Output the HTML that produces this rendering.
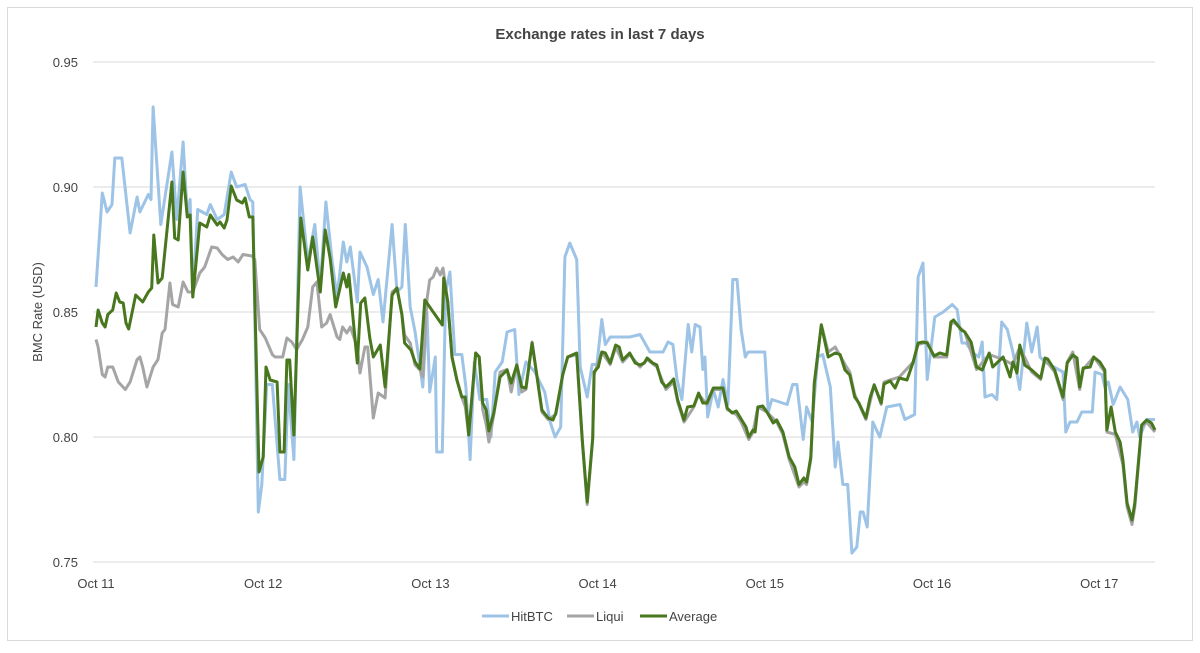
<!DOCTYPE html>
<html><head><meta charset="utf-8"><style>
html,body{margin:0;padding:0;background:#fff;}
svg{display:block;font-family:"Liberation Sans",sans-serif;}
</style></head><body>
<svg id="chart" width="1200" height="653" viewBox="0 0 1200 653" xmlns="http://www.w3.org/2000/svg">
<rect x="7.5" y="7.5" width="1185" height="633" fill="#fff" stroke="#d9d9d9" stroke-width="1"/>
<text x="600" y="39" text-anchor="middle" font-size="15" font-weight="bold" fill="#444">Exchange rates in last 7 days</text>
<text transform="translate(42,312) rotate(-90)" text-anchor="middle" font-size="13" fill="#444">BMC Rate (USD)</text>
<g id="grid"></g>
<g id="yticks"></g>
<g id="xticks"></g>
<g id="series"></g>
<g font-size="13" fill="#444">
 <g><line x1="482" y1="616" x2="509" y2="616" stroke="#9dc3e6" stroke-width="3"/><text x="511" y="621">HitBTC</text></g>
 <g><line x1="567" y1="616" x2="594" y2="616" stroke="#a5a5a5" stroke-width="3"/><text x="596" y="621">Liqui</text></g>
 <g><line x1="640" y1="616" x2="667" y2="616" stroke="#48771e" stroke-width="3"/><text x="669" y="621">Average</text></g>
</g>
</svg>
<script>
const yTicks = [0.95, 0.90, 0.85, 0.80, 0.75];
const yTickLabels = ["0.95", "0.90", "0.85", "0.80", "0.75"];
const xTickLabels = ["Oct 11", "Oct 12", "Oct 13", "Oct 14", "Oct 15", "Oct 16", "Oct 17"];
const xTickHours = [0, 24, 48, 72, 96, 120, 144];

const hitHours = [0,0.9,1.6,2.3,2.7,3.7,4.9,5.9,6.3,7.5,7.9,8.2,9.3,10.9,11.6,12.5,13.1,13.5,13.9,14.6,15.9,16.4,17.4,18.4,19.4,20.2,21.4,22.1,22.5,23.3,23.8,24.5,25.3,26.4,27.1,27.6,28.4,29.3,30.4,31.4,32.2,33.0,33.9,34.6,35.5,36.0,36.5,37.5,37.9,38.9,39.8,40.5,41.2,42.5,43.2,43.9,44.4,45.1,45.8,46.9,47.5,47.9,48.7,48.9,49.7,50.2,50.8,51.5,52.5,53.1,53.7,54.3,55.1,56.1,56.7,57.3,58.3,59.0,60.1,60.7,61.7,63.0,64.4,65.2,65.9,66.7,67.3,68.0,69.0,69.5,70.5,71.2,71.9,72.6,73.1,73.8,76.6,78.1,79.5,81.4,82.1,82.8,83.4,84.1,85.0,85.5,86.0,86.7,87.1,87.4,87.8,88.6,89.3,90.0,90.7,91.4,92.0,92.6,93.2,93.6,96.0,96.5,97.0,99.2,100.0,100.6,101.5,102.0,102.8,103.6,104.3,105.4,106.1,106.5,107.2,107.9,108.5,109.2,109.7,110.1,110.7,111.5,112.5,113.5,115.4,116.1,117.5,118.0,118.7,119.3,120.4,121.6,122.9,123.6,124.3,124.9,125.7,126.7,127.2,127.6,128.6,129.3,130.0,130.8,131.6,132.6,133.6,134.3,135.1,135.5,136.2,138.8,139.2,139.8,140.8,141.5,143.0,143.4,144.4,144.8,145.3,146.0,147.0,148.1,148.8,149.4,149.8,150.8,152.0];
const hitValues = [0.860,0.8976,0.890,0.893,0.9116,0.9116,0.8816,0.896,0.890,0.897,0.895,0.932,0.885,0.914,0.887,0.918,0.889,0.895,0.856,0.891,0.889,0.893,0.887,0.889,0.906,0.900,0.901,0.895,0.894,0.770,0.781,0.821,0.821,0.783,0.783,0.821,0.791,0.900,0.870,0.885,0.860,0.894,0.870,0.856,0.878,0.870,0.876,0.854,0.874,0.868,0.857,0.863,0.846,0.885,0.858,0.860,0.885,0.852,0.842,0.820,0.850,0.818,0.832,0.794,0.794,0.858,0.866,0.833,0.833,0.820,0.791,0.830,0.815,0.815,0.800,0.826,0.830,0.842,0.843,0.817,0.830,0.826,0.818,0.806,0.800,0.804,0.872,0.8776,0.871,0.828,0.816,0.829,0.829,0.847,0.837,0.840,0.840,0.841,0.834,0.834,0.838,0.837,0.823,0.815,0.845,0.834,0.845,0.844,0.827,0.832,0.808,0.819,0.812,0.823,0.813,0.863,0.863,0.843,0.832,0.834,0.834,0.810,0.815,0.813,0.821,0.821,0.799,0.812,0.806,0.832,0.833,0.820,0.788,0.798,0.781,0.781,0.7536,0.756,0.770,0.770,0.764,0.806,0.800,0.812,0.813,0.807,0.809,0.864,0.8696,0.823,0.848,0.850,0.853,0.851,0.8376,0.8376,0.834,0.832,0.838,0.816,0.817,0.815,0.846,0.843,0.834,0.819,0.8456,0.834,0.844,0.832,0.830,0.826,0.802,0.806,0.806,0.810,0.810,0.826,0.825,0.820,0.822,0.813,0.820,0.815,0.802,0.806,0.800,0.807,0.807];

const liquiHours = [0,0.3,0.9,1.3,1.7,2.4,3.2,4.2,4.9,5.9,6.3,6.7,7.3,8.2,8.9,9.5,9.9,10.6,11.0,11.8,12.5,13.2,13.9,14.9,15.6,16.6,17.4,18.1,18.9,19.7,20.4,21.1,22.4,22.8,23.5,24.3,25.3,25.7,26.1,26.8,27.4,28.1,28.8,29.6,30.4,31.1,31.7,32.4,33.1,33.6,34.6,35.0,35.4,36.0,36.5,37.5,37.9,38.6,39.0,39.8,40.5,41.5,42.5,43.2,43.9,44.3,45.1,45.8,46.5,46.9,47.5,47.9,48.4,48.9,49.4,49.8,50.5,51.1,51.8,52.5,53.0,53.5,54.5,55.0,55.5,56.0,56.4,57.1,58.0,59.0,59.6,60.4,61.1,61.7,62.6,64.0,64.9,66.0,67.0,67.7,69.0,69.8,70.5,71.3,71.5,72.6,73.8,74.6,75.6,76.6,78.1,79.1,80.5,81.8,82.9,83.5,84.4,85.8,86.5,87.7,88.6,90.0,90.6,91.9,92.6,93.7,94.3,95.0,96.3,97.7,98.6,99.5,100.9,101.6,102.0,102.6,103.1,104.1,105.1,106.1,107.5,108.2,108.9,110.5,111.7,112.7,113.1,115.3,117.3,118.0,119.3,120.3,122.1,122.7,123.1,124.7,126.4,128.2,130.2,131.6,132.6,134.3,135.6,136.2,137.6,138.8,139.4,140.2,141.2,141.7,143.2,144.8,145.1,146.3,147.4,148.0,148.7,149.1,150.1,150.8,152.0];
const liquiValues = [0.839,0.836,0.825,0.824,0.828,0.828,0.822,0.819,0.822,0.831,0.832,0.828,0.820,0.828,0.831,0.8416,0.843,0.8616,0.853,0.852,0.862,0.858,0.858,0.8656,0.868,0.876,0.8756,0.873,0.871,0.872,0.870,0.873,0.8724,0.871,0.843,0.8396,0.833,0.832,0.832,0.832,0.8396,0.838,0.835,0.8388,0.844,0.860,0.862,0.844,0.8456,0.849,0.840,0.839,0.844,0.8416,0.844,0.836,0.8256,0.836,0.836,0.8076,0.8176,0.8156,0.858,0.8596,0.849,0.8408,0.8376,0.8288,0.8268,0.824,0.8548,0.8628,0.864,0.8676,0.8648,0.8676,0.854,0.832,0.8228,0.816,0.812,0.8008,0.8336,0.832,0.811,0.805,0.798,0.809,0.826,0.827,0.818,0.829,0.818,0.819,0.838,0.810,0.807,0.809,0.825,0.832,0.833,0.798,0.773,0.799,0.825,0.834,0.829,0.836,0.830,0.833,0.828,0.831,0.828,0.819,0.822,0.814,0.806,0.812,0.817,0.813,0.819,0.819,0.811,0.809,0.806,0.799,0.802,0.812,0.810,0.806,0.801,0.791,0.780,0.782,0.781,0.791,0.821,0.845,0.834,0.836,0.829,0.826,0.817,0.807,0.821,0.813,0.822,0.824,0.830,0.837,0.838,0.832,0.832,0.845,0.846,0.842,0.827,0.833,0.831,0.829,0.836,0.826,0.823,0.831,0.826,0.815,0.830,0.834,0.819,0.827,0.832,0.826,0.802,0.801,0.789,0.772,0.765,0.772,0.804,0.806,0.802];

const avgHours = [0,0.3,0.9,1.3,1.7,2.4,2.9,3.4,3.9,4.3,4.7,5.7,6.7,7.5,8.0,8.3,8.9,9.5,9.8,10.9,11.3,11.8,12.5,13.1,13.5,13.9,14.9,15.9,16.4,17.4,17.8,18.4,18.8,19.4,20.2,21.0,21.4,22.0,22.5,23.4,24.0,24.4,25.0,26.0,26.4,27.0,27.4,27.8,28.4,29.4,30.4,31.1,32.2,32.9,33.6,34.4,35.5,36.0,36.3,37.5,38.0,38.6,39.3,39.8,40.8,41.5,42.5,43.2,43.9,44.3,45.2,45.8,46.5,47.2,48.2,49.7,49.9,50.5,51.1,51.8,52.5,53.0,53.5,54.5,55.0,55.5,56.0,56.4,57.1,58.0,59.0,59.6,60.4,61.1,61.7,62.6,64.0,64.9,65.6,66.0,67.0,67.7,69.0,69.8,70.5,71.3,71.5,72.1,72.6,73.1,73.8,74.6,75.1,75.6,76.6,77.4,78.1,78.7,79.1,79.9,80.5,81.2,81.8,82.4,82.9,83.5,84.4,84.9,85.8,86.5,87.1,87.7,88.6,89.3,90.0,90.6,91.3,91.9,92.6,93.3,93.7,94.3,94.6,95.0,95.7,96.3,97.2,97.7,98.6,99.5,100.3,100.9,101.6,102.0,102.6,103.1,104.1,105.1,106.1,106.8,107.5,108.2,108.9,109.5,110.5,111.1,111.7,112.7,113.1,114.0,114.7,115.3,116.4,117.3,118.0,118.7,119.3,120.3,121.1,122.1,122.7,123.1,124.2,124.7,125.6,126.4,127.2,128.2,128.7,130.2,131.2,131.6,132.2,132.6,133.3,134.3,135.1,135.6,136.2,136.6,137.6,138.8,139.4,140.2,140.8,141.2,141.7,142.7,143.2,144.1,144.8,145.1,145.7,146.3,147.0,147.4,148.0,148.7,149.1,150.1,150.8,151.5,152.0];
const avgValues = [0.844,0.8508,0.8456,0.844,0.849,0.8508,0.8576,0.854,0.8536,0.8456,0.8432,0.8568,0.854,0.858,0.8596,0.8808,0.8616,0.8636,0.872,0.902,0.8796,0.8788,0.906,0.888,0.8888,0.856,0.8856,0.884,0.8888,0.8848,0.886,0.8836,0.8868,0.9004,0.8948,0.8936,0.8956,0.888,0.888,0.786,0.792,0.828,0.8228,0.822,0.794,0.794,0.8308,0.8308,0.8008,0.8876,0.8668,0.880,0.858,0.8828,0.8716,0.852,0.8656,0.860,0.865,0.8296,0.8536,0.8556,0.8396,0.832,0.8368,0.820,0.8568,0.8596,0.849,0.8376,0.8348,0.830,0.8272,0.8548,0.8508,0.8448,0.8636,0.854,0.832,0.8228,0.816,0.816,0.8008,0.8336,0.832,0.8136,0.8108,0.8024,0.8096,0.824,0.8268,0.8216,0.8288,0.820,0.8196,0.8376,0.8108,0.8076,0.8068,0.8096,0.825,0.832,0.8336,0.7988,0.774,0.7996,0.826,0.828,0.834,0.8336,0.8296,0.8368,0.836,0.8308,0.8336,0.8296,0.8288,0.8296,0.8316,0.8296,0.8288,0.822,0.820,0.8216,0.8232,0.8148,0.8068,0.812,0.8124,0.8176,0.8136,0.8136,0.8196,0.8196,0.8196,0.8116,0.8096,0.8104,0.8072,0.804,0.800,0.8028,0.802,0.812,0.8124,0.810,0.8056,0.8068,0.802,0.792,0.788,0.781,0.7836,0.782,0.792,0.8216,0.8448,0.832,0.8336,0.833,0.8268,0.8248,0.816,0.8136,0.8076,0.8156,0.8208,0.8136,0.8212,0.8224,0.8196,0.8236,0.8228,0.830,0.8376,0.838,0.8376,0.8324,0.8336,0.8328,0.846,0.8468,0.8428,0.842,0.838,0.828,0.8268,0.8336,0.828,0.832,0.824,0.830,0.8256,0.8368,0.8288,0.8268,0.8248,0.8236,0.8316,0.8312,0.8268,0.816,0.8296,0.8328,0.8316,0.820,0.8276,0.828,0.832,0.830,0.8268,0.8028,0.812,0.802,0.798,0.7908,0.7736,0.7668,0.7736,0.8048,0.8068,0.8056,0.8028];

const NS = "http://www.w3.org/2000/svg";
const plotLeft = 93, plotRight = 1155, x0 = 96, pxPerHour = 6.967;
const yTop = 62, yBottom = 562, yMax = 0.95, yMin = 0.75;
function xScale(h) { return x0 + h * pxPerHour; }
function yScale(v) { return yTop + (yMax - v) / (yMax - yMin) * (yBottom - yTop); }

const grid = document.getElementById('grid');
const yt = document.getElementById('yticks');
yTicks.forEach((t, i) => {
  const y = yScale(t);
  const ln = document.createElementNS(NS, 'line');
  ln.setAttribute('x1', plotLeft); ln.setAttribute('x2', plotRight);
  ln.setAttribute('y1', y); ln.setAttribute('y2', y);
  ln.setAttribute('stroke', '#d9d9d9'); ln.setAttribute('stroke-width', '1');
  
  
  grid.appendChild(ln);
  const tx = document.createElementNS(NS, 'text');
  tx.setAttribute('x', 78); tx.setAttribute('y', y + 5);
  tx.setAttribute('text-anchor', 'end'); tx.setAttribute('font-size', '13'); tx.setAttribute('fill', '#444');
  tx.textContent = yTickLabels[i];
  
  
  yt.appendChild(tx);
});
const xt = document.getElementById('xticks');
xTickLabels.forEach((lab, i) => {
  const tx = document.createElementNS(NS, 'text');
  tx.setAttribute('x', xScale(xTickHours[i])); tx.setAttribute('y', 588);
  tx.setAttribute('text-anchor', 'middle'); tx.setAttribute('font-size', '13'); tx.setAttribute('fill', '#444');
  tx.textContent = lab;
  
  
  xt.appendChild(tx);
});
const series = document.getElementById('series');
function drawLine(hours, vals, color, name) {
  const d = hours.map((h, i) => (i ? 'L' : 'M') + xScale(h).toFixed(1) + ',' + yScale(vals[i]).toFixed(1)).join(' ');
  const p = document.createElementNS(NS, 'path');
  p.setAttribute('d', d); p.setAttribute('fill', 'none'); p.setAttribute('stroke', color);
  p.setAttribute('stroke-width', '3'); p.setAttribute('stroke-linejoin', 'round');
  
  
  series.appendChild(p);
}
drawLine(hitHours, hitValues, '#9dc3e6', 'hitbtc-line');
drawLine(liquiHours, liquiValues, '#a5a5a5', 'liqui-line');
drawLine(avgHours, avgValues, '#48771e', 'average-line');
</script>
</body></html>
